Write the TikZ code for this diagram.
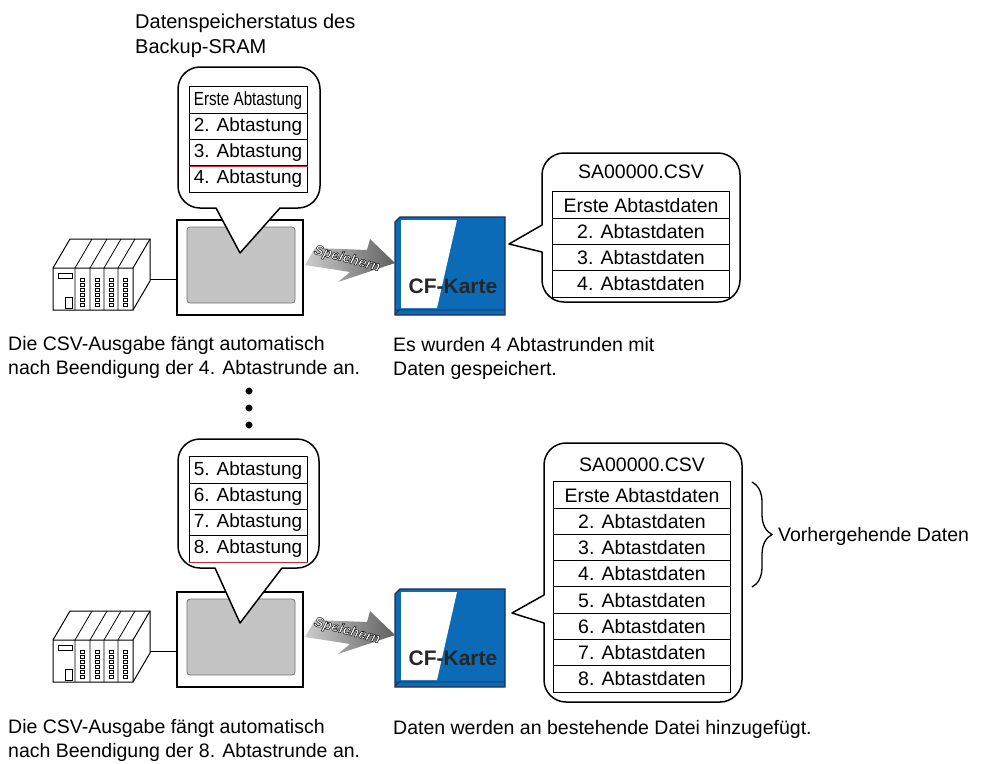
\documentclass[tikz,border=0pt]{standalone}
\usepackage{fontspec}
\setmainfont{Liberation Sans}
\usetikzlibrary{decorations.pathreplacing}

\definecolor{cfblue}{HTML}{0B6BB7}
\definecolor{cfdark}{HTML}{1E2D4F}
\definecolor{screengray}{HTML}{C4C4C4}
\definecolor{markred}{HTML}{E0202A}

\newcommand{\txt}{\fontsize{19.5}{23.5}\selectfont}
\newcommand{\celltxt}{\fontsize{19}{21}\selectfont}
% white letters with a thin black rim (fill and stroke)
\newcommand{\rimtext}[1]{\special{pdf:code q 0.1 0.1 0.1 RG 0.5 w 2 Tr}#1\special{pdf:code Q}}

\tikzset{
  bubble/.style={draw, line width=1.5pt, fill=white, line join=round},
  cell/.style={draw, line width=1pt, fill=white, inner sep=0pt, minimum height=26.25pt},
  scancell/.style={cell, minimum width=118pt, font=\celltxt},
  datacell/.style={cell, minimum width=177pt, font=\txt},
  marker/.style={draw=markred, line width=1.3pt},
  caption/.style={anchor=north west, align=left, inner sep=0pt, font=\txt},
  gpframe/.style={draw, line width=1.2pt, fill=white, minimum width=126pt, minimum height=95pt, inner sep=0pt},
  gpscreen/.style={draw=black!55, line width=0.8pt, fill=screengray, rounded corners=3pt, minimum width=108pt, minimum height=76pt, inner sep=0pt},
  cable/.style={line width=1pt},
  savetext/.style={font=\fontsize{14}{14}\selectfont\bfseries\itshape, text=white, inner sep=0pt, transform shape},
  cflabel/.style={font=\fontsize{21}{21}\selectfont\bfseries, text=black!85, inner sep=0pt},
  brace/.style={decorate, decoration={brace, amplitude=20pt}, line width=1.3pt},
  % PLC rack, origin at the front top left corner
  plc/.pic={
    \draw[line width=1pt, fill=white] (0,0) -- (17,-29) -- (97,-29) -- (97,13) -- (80,42) -- (0,42) -- cycle;
    \draw[line width=1pt] (0,0) -- (80,0) -- (97,-29) (80,0) -- (80,42);
    \foreach \m in {22,37,51,65}
      \draw[line width=0.8pt] (\m,42) -- (\m,0) -- ++(17,-29);
    \foreach \m in {29.5,44,58,72.5}
      \foreach \k in {0,...,5}
        \draw[line width=0.6pt] (\m-1.8,10+5*\k) rectangle ++(3.6,3.6);
    \draw[line width=0.8pt] (5,5) rectangle (19,10);
    \draw[line width=0.8pt] (12,29) rectangle (19,40);
    \coordinate (-port) at (97,11);
  },
  % grey block arrow with the label
  savearrow/.pic={
    \shade[left color=gray!40, right color=gray!75!black] (10,11) -- (62,13) -- (65,2) -- (90,26) -- (33,45) -- (45,35) -- (0,28) -- cycle;
    \node[savetext, rotate=-15] (-label) at (42,22) {\rimtext{Speichern}};
  },
  % memory card
  cfcard/.pic={
    \draw[draw=cfdark, line width=1.3pt, fill=cfblue] (0,5) -- (5,0) -- (110,0) -- (110,98) -- (0,98) -- cycle;
    \fill[white] (6,3) -- (62,3) -- (42,91) -- (6,91) -- cycle;
    \draw[cfdark, line width=0.8pt] (0,93) -- (110,93) (0,97) -- (5,92);
    \node[cflabel] (-label) at (58,69) {CF-Karte};
  }
}

\begin{document}
\begin{tikzpicture}[x=1pt, y=-1pt]
  \useasboundingbox (0,0) rectangle (995,763);

  % first write
  \node[caption, font=\fontsize{20}{25.5}\selectfont] (title) at (135,13.4) {Datenspeicherstatus des\\Backup-SRAM};

  \pic (plcA) at (53,268) {plc};
  \node[gpframe] (gpA) at (240,267.5) {};
  \node[gpscreen] (scrA) at (241,265) {};
  \draw[cable] (plcA-port) -- (plcA-port -| gpA.west);

  \draw[bubble] (200,208) [rounded corners=22pt] -- (178,208) -- (178,67) -- (320,67) -- (320,208) [sharp corners] -- (280,208) -- (240,253) -- (216,208) -- cycle;
  \node[scancell] (sA1) at (248,100.1) {\scalebox{0.8}[1]{Erste Abtastung}};
  \node[scancell] (sA2) at (248,126.4) {2. Abtastung};
  \node[scancell] (sA3) at (248,152.6) {3. Abtastung};
  \node[scancell] (sA4) at (248,178.9) {4. Abtastung};
  \draw[marker] (sA3.south west) -- (sA3.south east);

  \pic (arrA) at (305,237) {savearrow};
  \pic (cfA) at (395,217) {cfcard};

  \draw[bubble] (542,270) [rounded corners=22pt] -- (542,302) -- (740,302) -- (740,153) -- (542,153) [sharp corners] -- (542,225) -- (509,244) -- (542,252) -- cycle;
  \node[font=\txt, inner sep=0pt] (fileA) at (641,172) {SA00000.CSV};
  \node[datacell] (dA1) at (641,205.1) {Erste Abtastdaten};
  \node[datacell] (dA2) at (641,231.4) {2. Abtastdaten};
  \node[datacell] (dA3) at (641,257.6) {3. Abtastdaten};
  \node[datacell] (dA4) at (641,283.9) {4. Abtastdaten};

  \node[caption] (noteA) at (8,336.4) {Die CSV-Ausgabe fängt automatisch\\nach Beendigung der 4. Abtastrunde an.};
  \node[caption] (doneA) at (393,337.4) {Es wurden 4 Abtastrunden mit\\Daten gespeichert.};

  \fill (249,391) circle (3.5pt);
  \fill (249,408) circle (3.5pt);
  \fill (249,425) circle (3.5pt);

  % second write
  \pic (plcB) at (53,640) {plc};
  \node[gpframe] (gpB) at (240,639.5) {};
  \node[gpscreen] (scrB) at (241,637) {};
  \draw[cable] (plcB-port) -- (plcB-port -| gpB.west);

  \draw[bubble] (200,568) [rounded corners=22pt] -- (178,568) -- (178,439) -- (319,439) -- (319,568) [sharp corners] -- (282,568) -- (240,623) -- (215,568) -- cycle;
  \node[scancell] (sB5) at (248,470.1) {5. Abtastung};
  \node[scancell] (sB6) at (248,496.4) {6. Abtastung};
  \node[scancell] (sB7) at (248,522.6) {7. Abtastung};
  \node[scancell] (sB8) at (248,548.9) {8. Abtastung};
  \draw[marker] (sB8.south west) -- (sB8.south east);

  \pic (arrB) at (305,609) {savearrow};
  \pic (cfB) at (395,589) {cfcard};

  \draw[bubble] (544,660) [rounded corners=22pt] -- (544,702) -- (742,702) -- (742,443) -- (544,443) [sharp corners] -- (544,595) -- (512,613) -- (544,623) -- cycle;
  \node[font=\txt, inner sep=0pt] (fileB) at (642,465) {SA00000.CSV};
  \node[datacell] (dB1) at (642,495.1) {Erste Abtastdaten};
  \node[datacell] (dB2) at (642,521.4) {2. Abtastdaten};
  \node[datacell] (dB3) at (642,547.6) {3. Abtastdaten};
  \node[datacell] (dB4) at (642,573.9) {4. Abtastdaten};
  \node[datacell] (dB5) at (642,600.1) {5. Abtastdaten};
  \node[datacell] (dB6) at (642,626.4) {6. Abtastdaten};
  \node[datacell] (dB7) at (642,652.6) {7. Abtastdaten};
  \node[datacell] (dB8) at (642,678.9) {8. Abtastdaten};

  \coordinate (braceTop) at (752,482);
  \coordinate (braceBot) at (752,587);
  \draw[brace] (braceTop) -- (braceBot);
  \node[font=\txt, anchor=west, inner sep=0pt] (prev) at (778,536) {Vorhergehende Daten};

  \node[caption] (noteB) at (8,719.4) {Die CSV-Ausgabe fängt automatisch\\nach Beendigung der 8. Abtastrunde an.};
  \node[font=\txt, anchor=base west, inner sep=0pt] (doneB) at (393,734) {Daten werden an bestehende Datei hinzugefügt.};
\end{tikzpicture}
\end{document}
